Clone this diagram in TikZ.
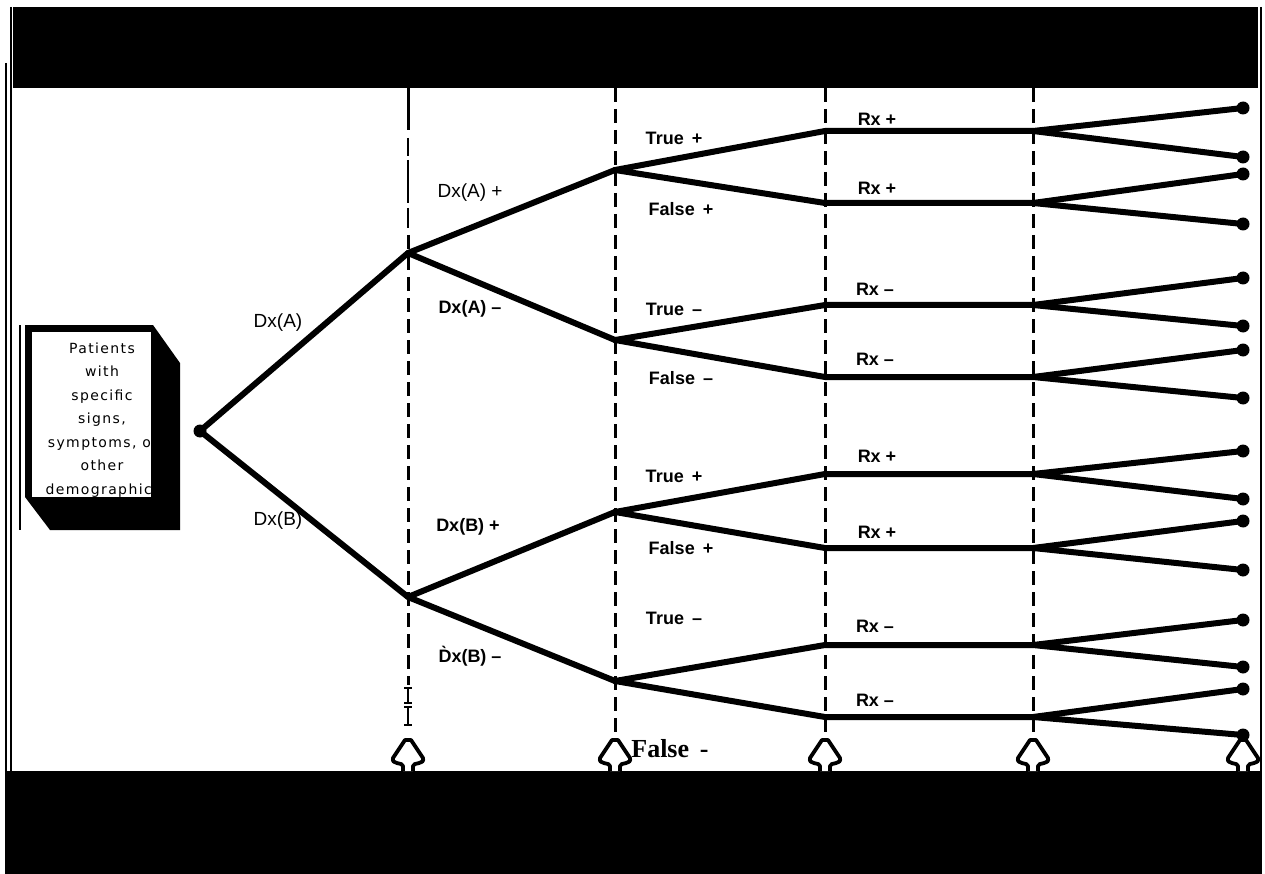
\documentclass[tikz,border=0pt]{standalone}
\usepackage{fontspec}
\setmainfont{Liberation Sans}
\newfontfamily\serifbold{Liberation Serif}
\newfontfamily\patfont[LetterSpace=10]{DejaVu Sans}
\begin{document}
\begin{tikzpicture}[x=1pt,y=-1pt,
  branch/.style={line width=6pt,line cap=round,line join=round},
  guide/.style={line width=3pt,dash pattern=on 14pt off 7pt},
  thinguide/.style={line width=1.2pt},
  enddot/.style={circle,fill=black,inner sep=0pt,minimum size=13pt},
  lab/.style={font=\fontsize{19}{21}\selectfont,inner sep=0pt},
  blab/.style={font=\bfseries\fontsize{18}{20}\selectfont,inner sep=0pt},
  patline/.style={font=\patfont\fontsize{14}{16}\selectfont,anchor=base,inner sep=0pt},
  pointer/.style={line width=3.8pt,fill=white,line join=round}
]
\useasboundingbox (0,0) rectangle (1265,874);
\fill[white] (0,0) rectangle (1265,874);
% bands
\fill[black] (13,7) rectangle (1258,88);
\fill[black] (5,771) rectangle (1262,874);
% frame lines
\draw[line width=1.5pt] (6,63) -- (6,771);
\draw[line width=1.5pt] (11,7) -- (11,771);
\draw[line width=2pt] (20,325) -- (20,530);
\draw[line width=1.5pt] (1261,7) -- (1261,771);
% vertical guides
\draw[line width=3pt] (408,88) -- (408,130);
\draw[thinguide] (408,138) -- (408,156) (408,160) -- (408,203) (408,208) -- (408,228);
\draw[guide] (408,235) -- (408,685);
\draw[thinguide] (408,688) -- (408,703) (408,707) -- (408,725);
\draw[thinguide] (404,688) -- (412,688) (404,703) -- (412,703) (404,707) -- (412,707) (404,725) -- (412,725);
\foreach \gx in {615,825,1033} \draw[guide] (\gx,88) -- (\gx,735);
% bottom pointers
\foreach \px/\nm in {408/pa,615/pb,825/pc,1033/pd,1243/pe}{
  \coordinate (\nm) at (\px,771);
  \draw[pointer,shift={(\nm)}] (-5,0) -- (-5,-5) .. controls (-5,-9) and (-17,-6) .. (-15,-13)
     -- (-3,-31) -- (3,-31) -- (15,-13) .. controls (17,-6) and (5,-9) .. (5,-5) -- (5,0);
}
% patient box
\fill[black] (25,325) -- (153,325) -- (180,363) -- (180,530) -- (50,530) -- (25,497) -- cycle;
\fill[white] (32,332) rectangle (151,497);
\begin{scope}
\clip (32,332) rectangle (151,497);
\node[patline] (p1) at (102,353) {Patients};
\node[patline] (p2) at (102,376.5) {with};
\node[patline] (p3) at (102,400) {specific};
\node[patline] (p4) at (102,423.5) {signs,};
\node[patline] (p5) at (103,447) {symptoms, or};
\node[patline] (p6) at (102,470.5) {other};
\node[patline] (p7) at (103,494) {demographics};
\end{scope}
% tree junctions
\node[enddot] (root) at (200,431) {};
\coordinate (A) at (408,253);
\coordinate (B) at (408,597);
\coordinate (Ap) at (615,170);
\coordinate (Am) at (615,340);
\coordinate (Bp) at (615,512);
\coordinate (Bm) at (615,681);
\foreach \i/\yy in {1/131,2/203,3/305,4/377,5/474,6/548,7/645,8/717}{
  \coordinate (c\i) at (825,\yy);
  \coordinate (d\i) at (1033,\yy);
}
\foreach \j/\yy in {1/108,2/157,3/174,4/224,5/278,6/326,7/350,8/398,9/451,10/499,11/521,12/570,13/620,14/667,15/689,16/735}{
  \node[enddot] (e\j) at (1243,\yy) {};
}
% branches
\draw[branch] (root.center) -- (A) -- (Ap);
\draw[branch] (root.center) -- (B) -- (Bp);
\draw[branch] (A) -- (Am);
\draw[branch] (B) -- (Bm);
\draw[branch] (Ap) -- (c1) -- (d1);
\draw[branch] (Ap) -- (c2) -- (d2);
\draw[branch] (Am) -- (c3) -- (d3);
\draw[branch] (Am) -- (c4) -- (d4);
\draw[branch] (Bp) -- (c5) -- (d5);
\draw[branch] (Bp) -- (c6) -- (d6);
\draw[branch] (Bm) -- (c7) -- (d7);
\draw[branch] (Bm) -- (c8) -- (d8);
\foreach \i/\a/\b in {1/1/2,2/3/4,3/5/6,4/7/8,5/9/10,6/11/12,7/13/14,8/15/16}{
  \draw[branch] (d\i) -- (e\a.center);
  \draw[branch] (d\i) -- (e\b.center);
}
% labels
\node[lab] (lA) at (278,323) {Dx(A)};
\node[lab] (lB) at (278,521) {Dx(B)};
\node[lab] (lAp) at (470,193) {Dx(A) +};
\node[blab] (lAm) at (470,309) {Dx(A) –};
\node[blab] (lBp) at (468,527) {Dx(B) +};
\node[blab] (lBm) at (470,656) {\`{D}x(B) –};
\node[blab] (t1) at (674,138) {True \,+};
\node[blab] (f1) at (681,209) {False \,+};
\node[blab] (t2) at (674,309) {True \,–};
\node[blab] (f2) at (681,378) {False \,–};
\node[blab] (t3) at (674,476) {True \,+};
\node[blab] (f3) at (681,548) {False \,+};
\node[blab] (t4) at (674,618) {True \,–};
\node[font=\serifbold\bfseries\fontsize{26}{28}\selectfont,inner sep=0pt] (f4) at (670,749) {False \,-};
\node[blab] (r1) at (877,119) {Rx +};
\node[blab] (r2) at (877,188) {Rx +};
\node[blab] (r3) at (875,289) {Rx –};
\node[blab] (r4) at (875,359) {Rx –};
\node[blab] (r5) at (877,456) {Rx +};
\node[blab] (r6) at (877,532) {Rx +};
\node[blab] (r7) at (875,626) {Rx –};
\node[blab] (r8) at (875,700) {Rx –};
\end{tikzpicture}
\end{document}
